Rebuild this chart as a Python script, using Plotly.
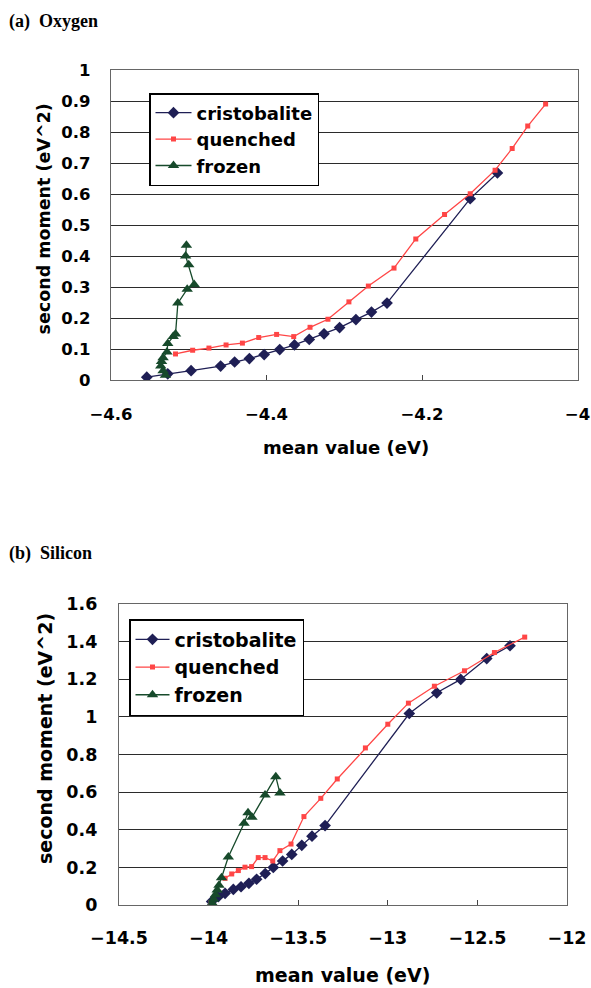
import plotly.graph_objects as go

W, H = 591, 988

# ---------------- data: (a) Oxygen ----------------
ox_cris_x = [-4.554, -4.527, -4.497, -4.459, -4.441, -4.422, -4.403, -4.383, -4.364,
             -4.345, -4.326, -4.306, -4.285, -4.265, -4.245, -4.138, -4.103]
ox_cris_y = [0.009, 0.020, 0.030, 0.045, 0.058, 0.069, 0.082, 0.098, 0.113,
             0.131, 0.149, 0.169, 0.195, 0.219, 0.248, 0.585, 0.668]

ox_quen_x = [-4.517, -4.495, -4.474, -4.452, -4.431, -4.410, -4.387, -4.365, -4.344, -4.321,
             -4.294, -4.269, -4.236, -4.208, -4.171, -4.138, -4.106, -4.084, -4.064, -4.041]
ox_quen_y = [0.084, 0.096, 0.103, 0.113, 0.119, 0.137, 0.147, 0.140, 0.170, 0.196,
             0.252, 0.303, 0.361, 0.455, 0.534, 0.601, 0.677, 0.747, 0.819, 0.890]

ox_froz_x = [-4.530, -4.533, -4.536, -4.535, -4.533, -4.528, -4.527, -4.520, -4.517,
             -4.514, -4.502, -4.493, -4.500, -4.504, -4.503]
ox_froz_y = [0.015, 0.030, 0.045, 0.060, 0.072, 0.090, 0.118, 0.140, 0.148,
             0.248, 0.293, 0.308, 0.372, 0.400, 0.435]

# ---------------- data: (b) Silicon ----------------
si_cris_x = [-13.983, -13.946, -13.908, -13.862, -13.819, -13.775, -13.732, -13.684, -13.639,
             -13.587, -13.536, -13.480, -13.423, -13.350, -12.880, -12.727, -12.593, -12.448, -12.318]
si_cris_y = [0.018, 0.044, 0.062, 0.083, 0.097, 0.115, 0.137, 0.167, 0.200,
             0.234, 0.269, 0.317, 0.366, 0.422, 1.018, 1.128, 1.199, 1.310, 1.378]

si_quen_x = [-13.908, -13.871, -13.834, -13.797, -13.760, -13.723, -13.685, -13.642, -13.602, -13.540,
             -13.468, -13.374, -13.282, -13.125, -13.000, -12.885, -12.740, -12.572, -12.405, -12.236]
si_quen_y = [0.142, 0.165, 0.183, 0.201, 0.204, 0.252, 0.252, 0.234, 0.289, 0.324,
             0.470, 0.567, 0.670, 0.835, 0.961, 1.073, 1.163, 1.245, 1.342, 1.424]

si_froz_x = [-13.980, -13.972, -13.962, -13.952, -13.942, -13.928, -13.890,
             -13.802, -13.780, -13.758, -13.685, -13.625, -13.602]
si_froz_y = [0.010, 0.030, 0.055, 0.080, 0.105, 0.145, 0.255,
             0.435, 0.490, 0.466, 0.585, 0.682, 0.595]

series_names = ["cristobalite", "quenched", "frozen"]
ox_xticks = [-4.6, -4.4, -4.2, -4.0]
si_xticks = [-14.5, -14, -13.5, -13, -12.5, -12]

# ---------------- styling ----------------
C_CRIS = "#1f1f55"
C_QUEN = "#ff4646"
C_FROZ = "#174a2b"
SANS_B = "DejaVu Sans"
SERIF = "Liberation Serif"


def px(x):
    return x / W


def py(y):
    return 1 - y / H


fig = go.Figure()

styles = [
    (C_CRIS, "diamond", 9),
    (C_QUEN, "square", 5),
    (C_FROZ, "triangle-up", 10),
]

top_data = [(ox_cris_x, ox_cris_y), (ox_quen_x, ox_quen_y), (ox_froz_x, ox_froz_y)]
bot_data = [(si_cris_x, si_cris_y), (si_quen_x, si_quen_y), (si_froz_x, si_froz_y)]

for (xs, ys), name, (col, sym, sz) in zip(top_data, series_names, styles):
    fig.add_trace(go.Scatter(
        x=xs, y=ys, name=name, mode="lines+markers",
        line=dict(color=col, width=1.3),
        marker=dict(color=col, symbol=sym, size=sz),
        xaxis="x", yaxis="y", legend="legend"))

for (xs, ys), name, (col, sym, sz) in zip(bot_data, series_names, styles):
    fig.add_trace(go.Scatter(
        x=xs, y=ys, name=name, mode="lines+markers",
        line=dict(color=col, width=1.3),
        marker=dict(color=col, symbol=sym, size=sz),
        xaxis="x2", yaxis="y2", legend="legend2"))

axis_common = dict(showline=True, linecolor="#666666", linewidth=1.3, mirror=True,
                   zeroline=False, showgrid=False, automargin=False,
                   ticklabeloverflow="allow")
yaxis_common = dict(showline=True, linecolor="#666666", linewidth=1.3, mirror=True,
                    zeroline=False, showgrid=True, gridcolor="#2b2b2b", gridwidth=1.2,
                    ticks="", automargin=False, ticklabeloverflow="allow")

tick_top = dict(family=SANS_B, size=16.5, color="black", weight="bold")
tick_bot = dict(family=SANS_B, size=17.5, color="black", weight="bold")

fig.update_layout(
    width=W, height=H,
    margin=dict(l=0, r=0, t=0, b=0, autoexpand=False),
    paper_bgcolor="white", plot_bgcolor="white",
    showlegend=True,
    xaxis=dict(domain=[px(111), px(577.5)], range=[-4.6, -4.0], anchor="y",
               tickvals=ox_xticks, ticks="inside", ticklen=5, tickcolor="#444",
               tickfont=tick_top, ticklabelstandoff=19, **axis_common),
    yaxis=dict(domain=[py(380), py(70)], range=[0, 1], dtick=0.1, anchor="x",
               tickfont=tick_top, ticklabelstandoff=16, **yaxis_common),
    xaxis2=dict(domain=[px(119), px(567)], range=[-14.5, -12.0], anchor="y2",
                tickvals=si_xticks, ticks="inside", ticklen=5, tickcolor="#444",
                tickfont=tick_bot, ticklabelstandoff=17, **axis_common),
    yaxis2=dict(domain=[py(905), py(604)], range=[0, 1.6], dtick=0.2, anchor="x2",
                tickfont=tick_bot, ticklabelstandoff=17, **yaxis_common),
    legend=dict(x=px(149), y=py(93), xanchor="left", yanchor="top",
                bgcolor="white", bordercolor="black", borderwidth=1.5,
                font=dict(family=SANS_B, size=18, color="black", weight="bold"),
                tracegroupgap=0, itemwidth=36),
    legend2=dict(x=px(129), y=py(619), xanchor="left", yanchor="top",
                 bgcolor="white", bordercolor="black", borderwidth=1.5,
                 font=dict(family=SANS_B, size=19, color="black", weight="bold"),
                 tracegroupgap=0, itemwidth=34),
)

annotations = [
    dict(text="<b>(a)  Oxygen</b>", x=px(7), y=py(21), xanchor="left", yanchor="middle",
         font=dict(family=SERIF, size=18, color="black")),
    dict(text="<b>(b)  Silicon</b>", x=px(7), y=py(553), xanchor="left", yanchor="middle",
         font=dict(family=SERIF, size=18, color="black")),
    dict(text="second moment (eV^2)", x=px(43.5), y=py(219), textangle=-90,
         xanchor="center", yanchor="middle",
         font=dict(family=SANS_B, size=17.5, color="black", weight="bold")),
    dict(text="second moment (eV^2)", x=px(45), y=py(739), textangle=-90,
         xanchor="center", yanchor="middle",
         font=dict(family=SANS_B, size=19, color="black", weight="bold")),
    dict(text="mean value (eV)", x=px(345.5), y=py(447), xanchor="center", yanchor="middle",
         font=dict(family=SANS_B, size=18, color="black", weight="bold")),
    dict(text="mean value (eV)", x=px(342), y=py(975), xanchor="center", yanchor="middle",
         font=dict(family=SANS_B, size=19, color="black", weight="bold")),
]
for a in annotations:
    a.update(xref="paper", yref="paper", showarrow=False)
fig.update_layout(annotations=annotations)

fig.write_html("out.html",
               config={"displayModeBar": False},
               post_script="document.body.style.margin='0px';"
                           "document.documentElement.style.overflow='hidden';")
